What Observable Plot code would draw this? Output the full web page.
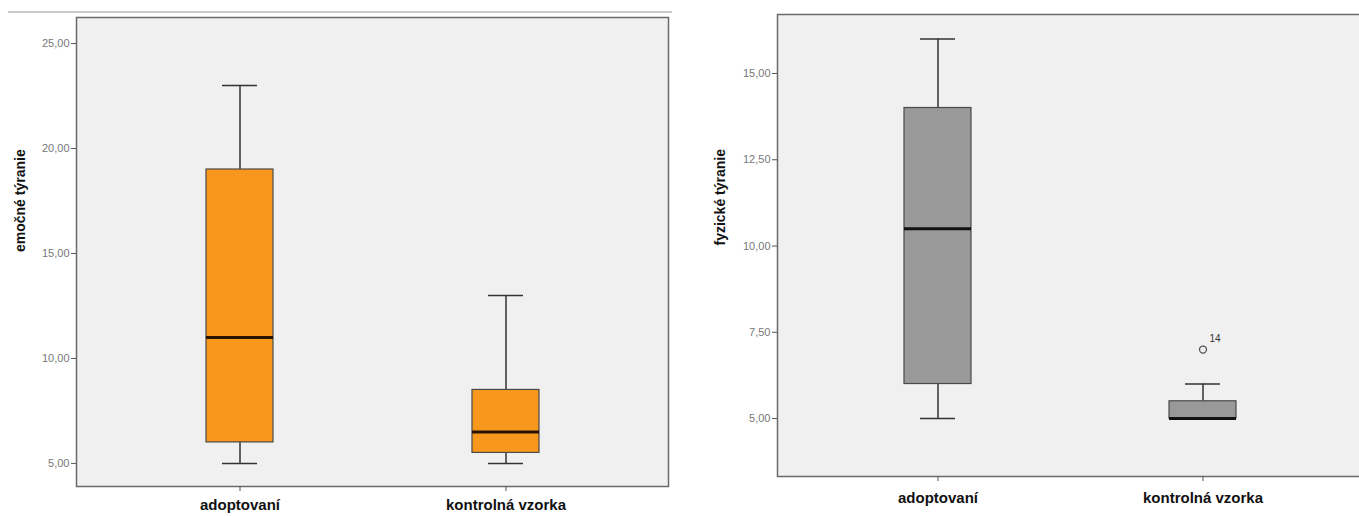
<!DOCTYPE html>
<html>
<head>
<meta charset="utf-8">
<script src="https://cdn.jsdelivr.net/npm/d3@7"></script>
<script src="https://cdn.jsdelivr.net/npm/@observablehq/plot@0.6"></script>
<style>
  html, body { margin: 0; padding: 0; background: #ffffff; overflow: hidden; width: 1359px; height: 516px; }
  #wrap { position: relative; width: 1359px; height: 516px; overflow: hidden; }
  #left { position: absolute; left: 0; top: 0; width: 680px; }
  #right { position: absolute; left: 690px; top: 0; width: 684px; }
  #topline { position: absolute; left: 8px; top: 11px; width: 664px; height: 2px; background: #cacaca; }
  svg { font-family: "Liberation Sans", Arial, sans-serif; max-width: none !important; }
</style>
</head>
<body>
<div id="wrap">
  <div id="topline"></div>
  <div id="left"></div>
  <div id="right"></div>
</div>
<script>
// ---- data ----
const categories = ["adoptovaní", "kontrolná vzorka"];

// emočné týranie
const emoMin = [5, 5];
const emoQ1 = [6, 5.5];
const emoMedian = [11, 6.5];
const emoQ3 = [19, 8.5];
const emoMax = [23, 13];
const emoTicks = [5, 10, 15, 20, 25];

// fyzické týranie
const fyzMin = [5, 5];
const fyzQ1 = [6, 5];
const fyzMedian = [10.5, 5];
const fyzQ3 = [14, 5.5];
const fyzMax = [16, 6];
const fyzTicks = [5, 7.5, 10, 12.5, 15];

// outliers (fyzické týranie)
const outlierCategory = ["kontrolná vzorka"];
const outlierValue = [7];
const outlierLabel = ["14"];

const fmt = d => d.toFixed(2).replace(".", ",");

function rows(mins, q1s, meds, q3s, maxs) {
  return categories.map((c, i) => ({cat: c, min: mins[i], q1: q1s[i], med: meds[i], q3: q3s[i], max: maxs[i]}));
}

function boxChart(opts) {
  const data = rows(...opts.stats);
  const marks = [
    Plot.frame({fill: "#f0f0f0", stroke: "#6a6a6a", strokeWidth: 1.5}),
    Plot.ruleX(data, {x: "cat", y1: "min", y2: "q1", stroke: "#333", strokeWidth: 1.5}),
    Plot.ruleX(data, {x: "cat", y1: "q3", y2: "max", stroke: "#333", strokeWidth: 1.5}),
    Plot.tickY(data, {x: "cat", y: "min", stroke: "#333", strokeWidth: 1.5, insetLeft: 16, insetRight: 16}),
    Plot.tickY(data, {x: "cat", y: "max", stroke: "#333", strokeWidth: 1.5, insetLeft: 16, insetRight: 16}),
    Plot.barY(data, {x: "cat", y1: "q1", y2: "q3", fill: opts.fill, stroke: "#4a4a4a", strokeWidth: 1.2}),
    Plot.tickY(data, {x: "cat", y: "med", stroke: opts.medianColor, strokeWidth: 3}),
    Plot.text([opts.yLabel], {frameAnchor: "left", text: d => d, rotate: -90, dx: opts.labelDx, fontSize: 14, fontWeight: "bold", fill: "#111"})
  ];
  if (opts.outliers) {
    const od = opts.outliers.cat.map((c, i) => ({cat: c, v: opts.outliers.val[i], lab: opts.outliers.lab[i]}));
    marks.push(Plot.dot(od, {x: "cat", y: "v", r: 3.5, stroke: "#555", strokeWidth: 1.3, fill: "#f0f0f0"}));
    marks.push(Plot.text(od, {x: "cat", y: "v", text: "lab", dx: 12, dy: -11, fontSize: 10, fill: "#333"}));
  }
  return Plot.plot({
    width: opts.width,
    height: 516,
    marginLeft: opts.marginLeft,
    marginRight: opts.marginRight,
    marginTop: opts.marginTop,
    marginBottom: opts.marginBottom,
    style: {background: "transparent", overflow: "visible", maxWidth: "none"},
    x: {type: "band", domain: categories, paddingInner: opts.padInner, paddingOuter: opts.padOuter, label: null},
    y: {domain: opts.yDomain, ticks: opts.ticks, tickFormat: fmt, label: null},
    marks: [
      ...marks,
      Plot.axisY({ticks: opts.ticks, tickFormat: fmt, tickSize: 5, tickPadding: 2, fontSize: 11, fill: "#777", stroke: "#555", label: null}),
      Plot.axisX({tickSize: 5, tickPadding: opts.xPad, fontSize: 15, fontWeight: "bold", fill: "#111", stroke: "#555", label: null, style: {letterSpacing: "1px"}})
    ]
  });
}

document.getElementById("left").appendChild(boxChart({
  stats: [emoMin, emoQ1, emoMedian, emoQ3, emoMax],
  width: 680, marginLeft: 76, marginRight: 12, marginTop: 17, marginBottom: 30,
  padInner: 0.75, padOuter: 0.485,
  yDomain: [3.9, 26.24], ticks: emoTicks,
  fill: "#f7981d", medianColor: "#2a1200",
  yLabel: "emočné týranie", labelDx: -56, xPad: 8
}));

document.getElementById("right").appendChild(boxChart({
  stats: [fyzMin, fyzQ1, fyzMedian, fyzQ3, fyzMax],
  width: 684, marginLeft: 87, marginRight: 10, marginTop: 14, marginBottom: 40,
  padInner: 0.747, padOuter: 0.481,
  yDomain: [3.32, 16.71], ticks: fyzTicks,
  fill: "#999999", medianColor: "#111",
  yLabel: "fyzické týranie", labelDx: -57, xPad: 11,
  outliers: {cat: outlierCategory, val: outlierValue, lab: outlierLabel}
}));
</script>
</body>
</html>
